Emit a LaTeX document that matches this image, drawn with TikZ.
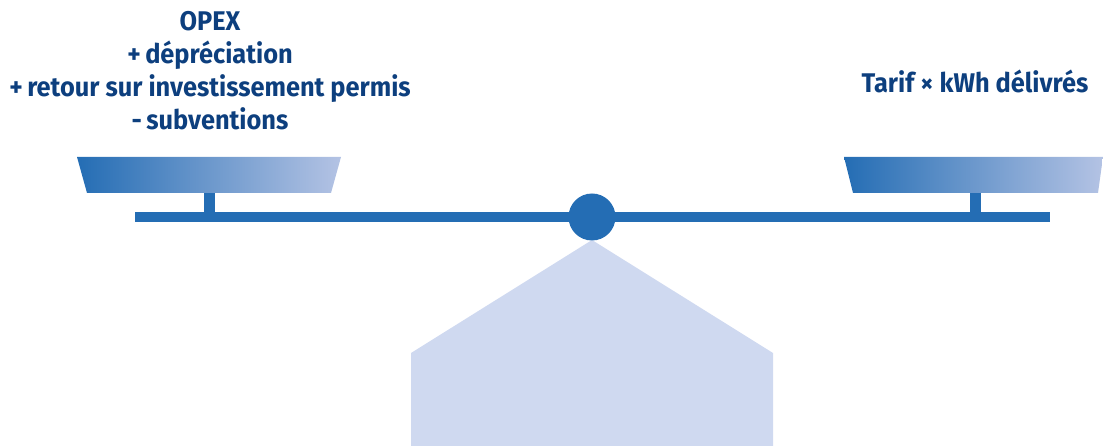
\documentclass[tikz,border=0pt]{standalone}
\usepackage{fontspec}
\newfontfamily\scalefont[FakeStretch=0.94]{Fira Sans}
\definecolor{textblue}{HTML}{0D3F7E}
\definecolor{beamblue}{HTML}{246DB4}
\definecolor{panlight}{HTML}{B4C3E4}
\definecolor{baseblue}{HTML}{CFD9F0}
\tikzset{
  label/.style={text=textblue, font=\scalefont\bfseries\fontsize{27}{33}\selectfont,
    align=center, inner sep=0pt},
  pan/.style={left color=beamblue, right color=panlight}
}
\begin{document}
\begin{tikzpicture}[x=1pt, y=-1pt]
    \useasboundingbox (0,0) rectangle (1103,446);

    % Base
    \fill[baseblue] (592,240) -- (773,353) -- (773,446) -- (411,446) -- (411,353) -- cycle;

    % Beam and pivot
    \fill[beamblue] (135,212) rectangle (1050,222);
    \fill[beamblue] (592,217) circle (23.5);

    % Left pan
    \fill[beamblue] (204,192) rectangle (215,213);
    \shade[pan] (77,157) -- (341,157) -- (331,193) -- (87,193) -- cycle;

    % Right pan
    \fill[beamblue] (970,192) rectangle (981,213);
    \shade[pan] (844,157) -- (1103,157) -- (1098,193) -- (853,193) -- cycle;

    % Labels
    \node[label, anchor=north] (costs) at (210,11)
      {OPEX\\+\,dépréciation\\+\,retour sur investissement permis\\-\,subventions};
    \node[label] (revenue) at (975,81) {Tarif × kWh délivrés};
  \end{tikzpicture}
\end{document}
